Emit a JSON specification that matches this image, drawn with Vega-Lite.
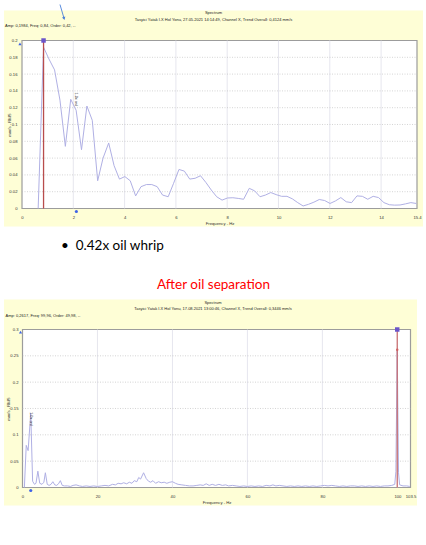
{
  "$schema": "https://vega.github.io/schema/vega-lite/v6.json",
  "background": "white",
  "padding": {"left": 4, "top": 3.5, "right": 3, "bottom": 40},
  "spacing": 0,
  "bounds": "flush",
  "config": {
    "view": {"stroke": null},
    "axis": {
      "ticks": false, "tickSize": 0, "domain": false, "grid": false,
      "labelFont": "Liberation Sans", "labelFontSize": 4.2, "labelColor": "#333",
      "titleFont": "Liberation Sans", "titleFontSize": 4.2, "titleFontWeight": "normal", "titleColor": "#333",
      "labelOverlap": false, "labelFlush": false, "format": ".4~r"
    }
  },
  "vconcat": [
    {
      "width": 419, "height": 216,
      "view": {"fill": "#fefed6", "stroke": null},
      "title": {"text": ["Spectrum", "Tasyici Yatak I.X Hol Yonu, 27.05.2021 14:14:49, Channel X, Trend Overall: 0,4124 mm/s"], "font": "Liberation Sans", "fontSize": 4, "fontWeight": "normal", "color": "#222", "lineHeight": 7, "anchor": "middle", "offset": -18},
      "resolve": {"axis": {"x": "independent", "y": "independent"}},
      "layer": [
        {
          "data": {"values": [{}]},
          "mark": {"type": "rect", "fill": "white", "stroke": "#9c9c9c", "strokeWidth": 1.2},
          "encoding": {
            "x": {"datum": 0, "type": "quantitative", "axis": null},
            "x2": {"datum": 15.4},
            "y": {"datum": 0, "type": "quantitative", "axis": null},
            "y2": {"datum": 0.2}
          }
        },
        {
          "data": {"values": [{"g": 2}, {"g": 4}, {"g": 6}, {"g": 8}, {"g": 10}, {"g": 12}, {"g": 14}]},
          "mark": {"type": "rule", "color": "#e0e0ea", "strokeWidth": 0.8},
          "encoding": {
            "x": {"field": "g", "type": "quantitative", "axis": {"orient": "top", "labels": false, "title": "Amp: 0,1984, Freq: 0,84, Order: 0,42, --", "titleX": 0.5, "titleY": 15, "titleAlign": "left", "titleAnchor": "start", "titleBaseline": "middle", "titleFontSize": 4, "titleColor": "#222"}},
            "y": {"datum": 0, "type": "quantitative", "axis": null},
            "y2": {"datum": 0.2}
          }
        },
        {
          "data": {"values": [{"h": 0.02}, {"h": 0.04}, {"h": 0.06}, {"h": 0.08}, {"h": 0.1}, {"h": 0.12}, {"h": 0.14}, {"h": 0.16}, {"h": 0.18}]},
          "mark": {"type": "rule", "color": "#b8b8b8", "strokeWidth": 0.6, "strokeDash": [1, 1.5]},
          "encoding": {
            "x": {"datum": 0, "type": "quantitative", "axis": null},
            "x2": {"datum": 15.4},
            "y": {"field": "h", "type": "quantitative", "axis": null}
          }
        },
        {
          "data": {"values": [
            {"f": 0.63, "amp": 0}, {"f": 0.84, "amp": 0.192}, {"f": 1.05, "amp": 0.178}, {"f": 1.27, "amp": 0.165},
            {"f": 1.48, "amp": 0.129}, {"f": 1.69, "amp": 0.074}, {"f": 1.9, "amp": 0.13}, {"f": 2.11, "amp": 0.117},
            {"f": 2.32, "amp": 0.07}, {"f": 2.53, "amp": 0.122}, {"f": 2.74, "amp": 0.105}, {"f": 2.95, "amp": 0.033},
            {"f": 3.16, "amp": 0.06}, {"f": 3.38, "amp": 0.078}, {"f": 3.59, "amp": 0.051}, {"f": 3.8, "amp": 0.035},
            {"f": 4.01, "amp": 0.038}, {"f": 4.22, "amp": 0.033}, {"f": 4.43, "amp": 0.015}, {"f": 4.64, "amp": 0.026},
            {"f": 4.85, "amp": 0.0285}, {"f": 5.06, "amp": 0.0285}, {"f": 5.27, "amp": 0.026}, {"f": 5.48, "amp": 0.016},
            {"f": 5.7, "amp": 0.014}, {"f": 5.91, "amp": 0.03}, {"f": 6.12, "amp": 0.0465}, {"f": 6.33, "amp": 0.0445},
            {"f": 6.54, "amp": 0.035}, {"f": 6.75, "amp": 0.036}, {"f": 6.96, "amp": 0.039}, {"f": 7.17, "amp": 0.031},
            {"f": 7.38, "amp": 0.022}, {"f": 7.59, "amp": 0.014}, {"f": 7.8, "amp": 0.01}, {"f": 8.01, "amp": 0.0125},
            {"f": 8.22, "amp": 0.0128}, {"f": 8.43, "amp": 0.012}, {"f": 8.64, "amp": 0.011}, {"f": 8.86, "amp": 0.024},
            {"f": 9.07, "amp": 0.021}, {"f": 9.28, "amp": 0.014}, {"f": 9.49, "amp": 0.016}, {"f": 9.7, "amp": 0.019},
            {"f": 9.91, "amp": 0.0165}, {"f": 10.12, "amp": 0.0145}, {"f": 10.33, "amp": 0.0145}, {"f": 10.54, "amp": 0.0115},
            {"f": 10.75, "amp": 0.007}, {"f": 10.96, "amp": 0.003}, {"f": 11.17, "amp": 0.005}, {"f": 11.38, "amp": 0.0075},
            {"f": 11.59, "amp": 0.0107}, {"f": 11.8, "amp": 0.0095}, {"f": 12.01, "amp": 0.006}, {"f": 12.22, "amp": 0.009},
            {"f": 12.43, "amp": 0.013}, {"f": 12.64, "amp": 0.008}, {"f": 12.85, "amp": 0.007}, {"f": 13.06, "amp": 0.015},
            {"f": 13.27, "amp": 0.0145}, {"f": 13.48, "amp": 0.011}, {"f": 13.69, "amp": 0.0145}, {"f": 13.9, "amp": 0.013},
            {"f": 14.11, "amp": 0.007}, {"f": 14.32, "amp": 0.0045}, {"f": 14.53, "amp": 0.004}, {"f": 14.74, "amp": 0.0042},
            {"f": 14.95, "amp": 0.0055}, {"f": 15.16, "amp": 0.007}, {"f": 15.37, "amp": 0.006}
          ]},
          "mark": {"type": "line", "color": "#b0b0e4", "strokeWidth": 1},
          "encoding": {
            "x": {"field": "f", "type": "quantitative", "scale": {"domain": [-0.7018, 15.634], "nice": false, "zero": false},
                  "axis": {"orient": "bottom", "offset": -18, "values": [0, 2, 4, 6, 8, 10, 12, 14, 15.4], "labelPadding": 7, "title": "Frequency - Hz", "titleX": 215.5, "titleY": 14.5, "titleBaseline": "middle"}},
            "y": {"field": "amp", "type": "quantitative", "scale": {"domain": [-0.02143, 0.23571], "nice": false, "zero": false},
                  "axis": {"orient": "left", "offset": -18, "values": [0, 0.02, 0.04, 0.06, 0.08, 0.1, 0.12, 0.14, 0.16, 0.18, 0.2], "labelPadding": 5, "title": "mm/s - RMS", "titleX": -13, "titleY": 114, "titleAngle": -90, "titleBaseline": "middle"}}
          }
        },
        {
          "data": {"values": [{"f": 0.84}]},
          "mark": {"type": "rule", "color": "#b84c4c", "strokeWidth": 1.3},
          "encoding": {
            "x": {"field": "f", "type": "quantitative", "axis": null},
            "y": {"datum": 0, "type": "quantitative", "axis": null},
            "y2": {"datum": 0.2}
          }
        },
        {
          "data": {"values": [{"f": 0.84}]},
          "mark": {"type": "point", "shape": "square", "filled": true, "color": "#6b55c9", "size": 20, "opacity": 1},
          "encoding": {
            "x": {"field": "f", "type": "quantitative", "axis": null},
            "y": {"datum": 0.2, "type": "quantitative", "axis": null}
          }
        },
        {
          "data": {"values": [{"f": 2.12}]},
          "mark": {"type": "point", "shape": "circle", "filled": true, "color": "#3f63e6", "size": 10, "opacity": 1},
          "encoding": {
            "x": {"field": "f", "type": "quantitative", "axis": null},
            "y": {"datum": -0.0036, "type": "quantitative", "axis": null}
          }
        },
        {
          "data": {"values": [{"amp": 0.196}]},
          "mark": {"type": "point", "shape": "triangle-up", "filled": true, "color": "#3f63e6", "size": 10, "opacity": 1},
          "encoding": {
            "x": {"datum": -0.08, "type": "quantitative", "axis": null},
            "y": {"field": "amp", "type": "quantitative", "axis": null}
          }
        },
        {
          "data": {"values": [{"f": 2.105, "amp": 0.138, "label": "1.0x ord"}]},
          "mark": {"type": "text", "angle": 90, "align": "left", "baseline": "middle", "fontSize": 3.8, "font": "Liberation Sans", "color": "#333"},
          "encoding": {
            "x": {"field": "f", "type": "quantitative", "axis": null},
            "y": {"field": "amp", "type": "quantitative", "axis": null},
            "text": {"field": "label"}
          }
        },
        {
          "data": {"values": [{}]},
          "mark": {"type": "rule", "color": "#4a80d8", "strokeWidth": 0.9},
          "encoding": {
            "x": {"datum": 1.4815, "type": "quantitative", "axis": null},
            "y": {"datum": 0.2428, "type": "quantitative", "axis": null},
            "x2": {"datum": 1.64},
            "y2": {"datum": 0.2262}
          }
        },
        {
          "data": {"values": [{}]},
          "mark": {"type": "point", "shape": "triangle-down", "filled": true, "color": "#4a80d8", "size": 12, "angle": 344, "opacity": 1},
          "encoding": {
            "x": {"datum": 1.64, "type": "quantitative", "axis": null},
            "y": {"datum": 0.2262, "type": "quantitative", "axis": null}
          }
        }
      ]
    },
    {
      "width": 419, "height": 36,
      "data": {"values": []},
      "mark": {"type": "point"},
      "title": {"text": "•\u00a0\u00a00.42x oil whrip", "font": "Lato", "fontSize": 13.5, "fontWeight": "normal", "color": "#000", "anchor": "start", "dx": 57, "offset": -25.5}
    },
    {
      "width": 419, "height": 37,
      "data": {"values": []},
      "mark": {"type": "point"},
      "title": {"text": "After oil separation", "font": "Lato", "fontSize": 13.5, "fontWeight": "normal", "color": "#ff0000", "anchor": "middle", "offset": -29}
    },
    {
      "width": 413, "height": 206,
      "view": {"fill": "#fefed6", "stroke": null},
      "title": {"text": ["Spectrum", "Tasyici Yatak I.X Hol Yonu, 17.08.2021 13:00:46, Channel X, Trend Overall: 0,3446 mm/s"], "font": "Liberation Sans", "fontSize": 4, "fontWeight": "normal", "color": "#222", "lineHeight": 6.5, "anchor": "middle", "dx": 2.5, "offset": -11.5},
      "resolve": {"axis": {"x": "independent", "y": "independent"}},
      "layer": [
        {
          "data": {"values": [{}]},
          "mark": {"type": "rect", "fill": "white", "stroke": "#9c9c9c", "strokeWidth": 1.2},
          "encoding": {
            "x": {"datum": 0, "type": "quantitative", "axis": null},
            "x2": {"datum": 103.5},
            "y": {"datum": 0, "type": "quantitative", "axis": null},
            "y2": {"datum": 0.3}
          }
        },
        {
          "data": {"values": [{"g": 20}, {"g": 40}, {"g": 60}, {"g": 80}, {"g": 100}]},
          "mark": {"type": "rule", "color": "#e0e0ea", "strokeWidth": 0.8},
          "encoding": {
            "x": {"field": "g", "type": "quantitative", "axis": {"orient": "top", "labels": false, "title": "Amp: 0,2617, Freq: 99,96, Order: 49,98, --", "titleX": 1, "titleY": 15.7, "titleAlign": "left", "titleAnchor": "start", "titleBaseline": "middle", "titleFontSize": 4, "titleColor": "#222"}},
            "y": {"datum": 0, "type": "quantitative", "axis": null},
            "y2": {"datum": 0.3}
          }
        },
        {
          "data": {"values": [{"h": 0.05}, {"h": 0.1}, {"h": 0.15}, {"h": 0.2}, {"h": 0.25}]},
          "mark": {"type": "rule", "color": "#b8b8b8", "strokeWidth": 0.6, "strokeDash": [1, 1.5]},
          "encoding": {
            "x": {"datum": 0, "type": "quantitative", "axis": null},
            "x2": {"datum": 103.5},
            "y": {"field": "h", "type": "quantitative", "axis": null}
          }
        },
        {
          "data": {"values": [
            {"f": 0.5, "amp": 0}, {"f": 1.0, "amp": 0.08}, {"f": 1.5, "amp": 0.07}, {"f": 2.2, "amp": 0.141},
            {"f": 2.7, "amp": 0.012}, {"f": 3.2, "amp": 0.006}, {"f": 3.6, "amp": 0.008}, {"f": 4.1, "amp": 0.031},
            {"f": 4.6, "amp": 0.008}, {"f": 5.2, "amp": 0.006}, {"f": 5.7, "amp": 0.01}, {"f": 6.1, "amp": 0.028},
            {"f": 6.6, "amp": 0.006}, {"f": 7.1, "amp": 0.004}, {"f": 7.6, "amp": 0.006}, {"f": 8.1, "amp": 0.011},
            {"f": 8.6, "amp": 0.005}, {"f": 9.1, "amp": 0.004}, {"f": 9.6, "amp": 0.007}, {"f": 10.1, "amp": 0.013},
            {"f": 10.6, "amp": 0.004}, {"f": 11.2, "amp": 0.003}, {"f": 12, "amp": 0.003}, {"f": 12.8, "amp": 0.002},
            {"f": 13.5, "amp": 0.004}, {"f": 14.3, "amp": 0.005}, {"f": 15.2, "amp": 0.003}, {"f": 16, "amp": 0.002},
            {"f": 17, "amp": 0.003}, {"f": 18, "amp": 0.002}, {"f": 19, "amp": 0.003}, {"f": 20, "amp": 0.002},
            {"f": 21, "amp": 0.003}, {"f": 22, "amp": 0.004}, {"f": 23, "amp": 0.003}, {"f": 24, "amp": 0.006},
            {"f": 24.8, "amp": 0.005}, {"f": 25.5, "amp": 0.008}, {"f": 26.3, "amp": 0.007}, {"f": 27, "amp": 0.009},
            {"f": 27.8, "amp": 0.007}, {"f": 28.5, "amp": 0.01}, {"f": 29.2, "amp": 0.008}, {"f": 29.8, "amp": 0.013},
            {"f": 30.5, "amp": 0.011}, {"f": 31, "amp": 0.019}, {"f": 31.5, "amp": 0.016}, {"f": 32.3, "amp": 0.028},
            {"f": 33, "amp": 0.017}, {"f": 33.6, "amp": 0.012}, {"f": 34.2, "amp": 0.01}, {"f": 34.8, "amp": 0.013},
            {"f": 35.5, "amp": 0.008}, {"f": 36.3, "amp": 0.011}, {"f": 37, "amp": 0.009}, {"f": 37.8, "amp": 0.01},
            {"f": 38.5, "amp": 0.008}, {"f": 39.3, "amp": 0.01}, {"f": 40, "amp": 0.011}, {"f": 40.8, "amp": 0.008},
            {"f": 41.5, "amp": 0.006}, {"f": 42.5, "amp": 0.005}, {"f": 43.5, "amp": 0.004}, {"f": 44.5, "amp": 0.003},
            {"f": 45.5, "amp": 0.003}, {"f": 46.5, "amp": 0.004}, {"f": 47.4, "amp": 0.005}, {"f": 48.2, "amp": 0.004},
            {"f": 49, "amp": 0.007}, {"f": 49.8, "amp": 0.004}, {"f": 50.6, "amp": 0.006}, {"f": 51.5, "amp": 0.004},
            {"f": 52.4, "amp": 0.006}, {"f": 53.3, "amp": 0.004}, {"f": 54.2, "amp": 0.005}, {"f": 55, "amp": 0.003},
            {"f": 56, "amp": 0.004}, {"f": 57, "amp": 0.003}, {"f": 58, "amp": 0.002}, {"f": 59, "amp": 0.003},
            {"f": 60, "amp": 0.002}, {"f": 61, "amp": 0.003}, {"f": 62, "amp": 0.002}, {"f": 63, "amp": 0.003},
            {"f": 64, "amp": 0.002}, {"f": 65, "amp": 0.004}, {"f": 66, "amp": 0.003}, {"f": 66.8, "amp": 0.005},
            {"f": 67.6, "amp": 0.003}, {"f": 68.5, "amp": 0.004}, {"f": 69.5, "amp": 0.003}, {"f": 70.5, "amp": 0.002},
            {"f": 71.5, "amp": 0.003}, {"f": 72.5, "amp": 0.002}, {"f": 73.5, "amp": 0.003}, {"f": 74.5, "amp": 0.002},
            {"f": 75.5, "amp": 0.003}, {"f": 76.5, "amp": 0.002}, {"f": 77.5, "amp": 0.003}, {"f": 78.5, "amp": 0.002},
            {"f": 79.5, "amp": 0.003}, {"f": 80.5, "amp": 0.004}, {"f": 81.5, "amp": 0.003}, {"f": 82.5, "amp": 0.004},
            {"f": 83.5, "amp": 0.003}, {"f": 84.5, "amp": 0.002}, {"f": 85.5, "amp": 0.003}, {"f": 86.5, "amp": 0.002},
            {"f": 87.5, "amp": 0.003}, {"f": 88.5, "amp": 0.003}, {"f": 89.5, "amp": 0.002}, {"f": 90.5, "amp": 0.003},
            {"f": 91.5, "amp": 0.002}, {"f": 92.5, "amp": 0.003}, {"f": 93.5, "amp": 0.002}, {"f": 94.5, "amp": 0.003},
            {"f": 95.5, "amp": 0.002}, {"f": 96.5, "amp": 0.003}, {"f": 97.5, "amp": 0.003}, {"f": 98.5, "amp": 0.004},
            {"f": 99.3, "amp": 0.006}, {"f": 99.6, "amp": 0.03}, {"f": 99.96, "amp": 0.2617}, {"f": 100.3, "amp": 0.028},
            {"f": 100.6, "amp": 0.005}, {"f": 101.5, "amp": 0.003}, {"f": 102.5, "amp": 0.003}, {"f": 103.3, "amp": 0.002}
          ]},
          "mark": {"type": "line", "color": "#b0b0e4", "strokeWidth": 1},
          "encoding": {
            "x": {"field": "f", "type": "quantitative", "scale": {"domain": [-4.935, 105.234], "nice": false, "zero": false},
                  "axis": {"orient": "bottom", "offset": -18, "values": [0, 20, 40, 60, 80, 100, 103.5], "labelPadding": 7, "title": "Frequency - Hz", "titleX": 212.5, "titleY": 15, "titleBaseline": "middle"}},
            "y": {"field": "amp", "type": "quantitative", "scale": {"domain": [-0.03418, 0.35696], "nice": false, "zero": false},
                  "axis": {"orient": "left", "offset": -18.5, "values": [0, 0.05, 0.1, 0.15, 0.2, 0.25, 0.3], "labelPadding": 4.5, "title": "mm/s - RMS", "titleX": -14, "titleY": 109, "titleAngle": -90, "titleBaseline": "middle"}}
          }
        },
        {
          "data": {"values": [{"f": 99.96}]},
          "mark": {"type": "rule", "color": "#c86a6a", "strokeWidth": 1.2},
          "encoding": {
            "x": {"field": "f", "type": "quantitative", "axis": null},
            "y": {"datum": 0, "type": "quantitative", "axis": null},
            "y2": {"datum": 0.3}
          }
        },
        {
          "data": {"values": [{"f": 99.96}]},
          "mark": {"type": "point", "shape": "square", "filled": true, "color": "#6b55c9", "size": 20, "opacity": 1},
          "encoding": {
            "x": {"field": "f", "type": "quantitative", "axis": null},
            "y": {"datum": 0.3, "type": "quantitative", "axis": null}
          }
        },
        {
          "data": {"values": [{"f": 99.96, "amp": 0.2617}]},
          "mark": {"type": "point", "shape": "circle", "filled": true, "color": "#d06060", "size": 6, "opacity": 1},
          "encoding": {
            "x": {"field": "f", "type": "quantitative", "axis": null},
            "y": {"field": "amp", "type": "quantitative", "axis": null}
          }
        },
        {
          "data": {"values": [{"f": 2.2}]},
          "mark": {"type": "point", "shape": "circle", "filled": true, "color": "#3f63e6", "size": 10, "opacity": 1},
          "encoding": {
            "x": {"field": "f", "type": "quantitative", "axis": null},
            "y": {"datum": -0.0057, "type": "quantitative", "axis": null}
          }
        },
        {
          "data": {"values": [{"amp": 0.295}]},
          "mark": {"type": "point", "shape": "triangle-up", "filled": true, "color": "#3f63e6", "size": 10, "opacity": 1},
          "encoding": {
            "x": {"datum": -0.53, "type": "quantitative", "axis": null},
            "y": {"field": "amp", "type": "quantitative", "axis": null}
          }
        },
        {
          "data": {"values": [{"f": 2.2, "amp": 0.143, "label": "1.0x ord"}]},
          "mark": {"type": "text", "angle": 90, "align": "left", "baseline": "middle", "fontSize": 3.8, "font": "Liberation Sans", "color": "#333"},
          "encoding": {
            "x": {"field": "f", "type": "quantitative", "axis": null},
            "y": {"field": "amp", "type": "quantitative", "axis": null},
            "text": {"field": "label"}
          }
        }
      ]
    }
  ]
}
